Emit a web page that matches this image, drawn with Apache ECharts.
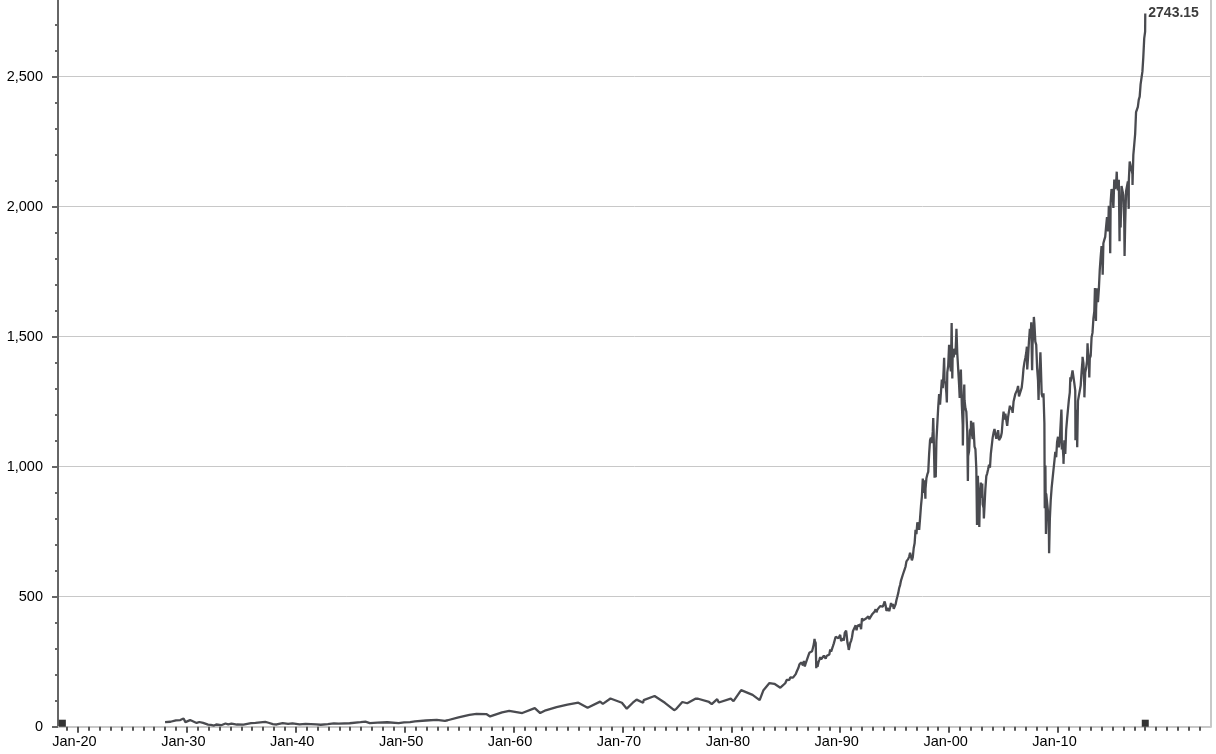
<!DOCTYPE html>
<html>
<head>
<meta charset="utf-8">
<script src="https://cdn.jsdelivr.net/npm/echarts@6/dist/echarts.min.js"></script>
<style>
html,body{margin:0;padding:0;background:#fff;}
#chart{width:1216px;height:754px;}
</style>
</head>
<body>
<div id="chart"></div>
<script>
// ---- Tick labels ----
const xLabelYears = [1920, 1930, 1940, 1950, 1960, 1970, 1980, 1990, 2000, 2010];
const xLabelText  = ['Jan-20','Jan-30','Jan-40','Jan-50','Jan-60','Jan-70','Jan-80','Jan-90','Jan-00','Jan-10'];
const yLabelValues = [0, 500, 1000, 1500, 2000, 2500];

// ---- Early history (decimal year, index level) ----
const earlyDates = [1928.0,1928.5,1929.0,1929.4,1929.7,1929.87,1930.0,1930.3,1930.9,1931.15,1931.5,1931.95,1932.2,1932.5,1932.7,1933.15,1933.55,1933.8,1934.1,1934.6,1935.2,1935.9,1936.3,1937.2,1937.5,1937.9,1938.25,1938.8,1939.3,1939.7,1940.35,1940.9,1941.9,1942.3,1942.95,1943.5,1943.95,1944.95,1945.95,1946.4,1946.8,1947.5,1948.4,1949.45,1949.95,1950.5,1950.95,1951.95,1952.95,1953.7,1953.95,1954.95,1955.95,1956.6,1957.5,1957.85,1958.95,1959.6,1960.8,1960.95,1961.95,1962.45,1962.95,1963.95,1964.95,1965.95,1966.1,1966.8,1966.95,1967.95,1968.2,1968.9,1969.95,1970.4,1970.95,1971.3,1971.9,1971.95,1972.95,1973.0,1973.9,1973.95,1974.75,1974.95,1975.5,1975.95,1976.7,1976.95,1977.95,1978.2,1978.7,1978.85,1978.95,1979.95,1980.2,1980.9,1980.95,1981.95,1982.6,1982.95,1983.5,1983.95,1984.5,1984.95];
const earlyValues = [17.6,19.0,24.4,25.5,31.3,17.7,21.5,25.5,14.5,18.1,14.5,8.1,7.3,4.4,8.5,5.7,12.2,8.8,11.8,8.4,8.1,13.4,15.0,18.7,15.2,10.2,8.5,13.8,10.6,13.0,9.3,10.9,8.7,7.5,9.8,12.5,11.5,13.3,17.4,19.3,14.1,15.5,17.1,13.6,16.8,17.5,20.4,23.8,26.6,22.7,24.8,36.0,45.5,49.7,48.5,39.4,55.2,60.7,52.5,58.1,71.6,52.3,63.1,75.0,84.8,92.4,94.0,73.2,80.3,96.5,87.7,108.4,92.1,69.3,92.2,104.0,92.0,102.1,118.1,120.2,92.0,97.6,63.5,68.6,95.0,90.2,107.5,107.5,95.1,87.0,106.0,93.0,96.1,107.9,98.0,140.5,135.8,122.6,102.4,140.6,168.0,164.9,150.0,167.2];

// ---- Monthly closes (Jan 1985 onward) ----
const closes1985to1994 = [
179.6,181.2,180.7,179.8,189.6,191.9,190.9,188.6,182.1,189.8,202.2,211.3,
211.8,226.9,238.9,235.5,247.4,250.8,236.1,252.9,231.3,244.0,249.2,242.2,
274.1,284.2,291.7,288.4,290.1,304.0,318.7,329.8,321.8,251.8,230.3,247.1,
257.1,267.8,258.9,261.3,262.2,273.5,272.0,261.5,271.9,279.0,273.7,277.7,
297.5,288.9,294.9,309.6,320.5,318.0,346.1,351.5,349.2,340.4,346.0,353.4,
329.1,331.9,339.9,330.8,361.2,358.0,356.2,322.6,306.1,304.0,322.2,330.2,
343.9,367.1,375.2,375.3,389.8,371.2,387.8,395.4,387.9,392.5,375.2,417.1,
408.8,412.7,403.7,415.0,415.4,408.1,424.2,414.0,417.8,418.7,431.4,435.7,
438.8,443.4,451.7,440.2,450.2,450.5,448.1,463.6,458.9,467.8,461.8,466.5,
481.6,467.1,445.8,451.0,456.5,444.3,458.3,475.5,462.7,472.4,453.7,459.3];
const closes1995to2004 = [
470.4,487.4,500.7,514.7,533.4,544.8,562.1,561.9,584.4,581.5,605.4,615.9,
636.0,640.4,645.5,654.2,669.1,670.6,639.9,652.0,687.3,705.3,757.0,740.7,
786.2,790.8,757.1,801.3,848.3,885.1,954.3,899.5,947.3,914.6,955.4,970.4,
980.3,1049.3,1101.8,1111.8,1090.8,1133.8,1120.7,957.3,1017.0,1098.7,1163.6,1229.2,
1279.6,1238.3,1286.4,1335.2,1301.8,1372.7,1328.7,1320.4,1282.7,1362.9,1388.9,1469.3,
1394.5,1366.4,1498.6,1452.4,1420.6,1454.6,1430.8,1517.7,1436.5,1429.4,1315.2,1320.3,
1366.0,1239.9,1160.3,1249.5,1255.8,1224.4,1211.2,1133.6,1040.9,1059.8,1139.5,1148.1,
1130.2,1106.7,1147.4,1076.9,1067.1,989.8,911.6,916.1,815.3,885.8,936.3,879.8,
855.7,841.2,848.2,916.9,963.6,974.5,990.3,1008.0,996.0,1050.7,1058.2,1111.9,
1131.1,1144.9,1126.2,1107.3,1120.7,1140.8,1101.7,1104.2,1114.6,1130.2,1173.8,1211.9];
const closes2005to2017 = [
1181.3,1203.6,1180.6,1156.9,1191.5,1191.3,1234.2,1220.3,1228.8,1207.0,1249.5,1248.3,
1280.1,1280.7,1294.9,1310.6,1270.1,1270.2,1276.7,1303.8,1335.9,1377.9,1400.6,1418.3,
1438.2,1406.8,1420.9,1482.4,1530.6,1503.4,1455.3,1474.0,1526.8,1549.4,1481.1,1468.4,
1378.6,1330.6,1322.7,1385.6,1400.4,1280.0,1267.4,1282.8,1166.4,968.8,896.2,903.3,
825.9,735.1,797.9,872.8,919.1,919.3,987.5,1020.6,1057.1,1036.2,1095.6,1115.1,
1073.9,1104.5,1169.4,1186.7,1089.4,1030.7,1101.6,1049.3,1141.2,1183.3,1180.6,1257.6,
1286.1,1327.2,1325.8,1363.6,1345.2,1320.6,1292.3,1218.9,1131.4,1253.3,1247.0,1257.6,
1312.4,1365.7,1408.5,1397.9,1310.3,1362.2,1379.3,1406.6,1440.7,1412.2,1416.2,1426.2,
1498.1,1514.7,1569.2,1597.6,1630.7,1606.3,1685.7,1633.0,1681.6,1756.5,1805.8,1848.4,
1782.6,1859.5,1872.3,1884.0,1923.6,1960.2,1930.7,2003.4,1972.3,2018.1,2067.6,2058.9,
1995.0,2104.5,2067.9,2085.5,2107.4,2063.1,2103.8,1972.2,1920.0,2079.4,2080.4,2043.9,
1940.2,1932.2,2059.7,2065.3,2097.0,2098.9,2173.6,2171.0,2168.3,2126.2,2198.8,2238.8,
2278.9,2363.6,2362.7,2384.2,2411.8,2423.4,2470.3,2471.7,2519.4,2575.3,2647.6,2673.6];

// ---- Intramonth extremes (decimal year, level) ----
const extremeDates = [1987.64,1987.80,1987.93,1990.54,1990.78,1997.82,1998.54,1998.77,1999.54,1999.79,2000.23,2000.29,2000.67,2000.97,2001.08,2001.26,2001.39,2001.72,2002.01,2002.21,2002.56,2002.64,2002.77,2002.91,2003.04,2003.19,2007.14,2007.17,2007.54,2007.62,2007.78,2008.21,2008.38,2008.78,2008.84,2008.89,2009.18,2010.31,2010.35,2010.50,2011.13,2011.33,2011.60,2011.76,2012.25,2012.42,2012.71,2012.87,2013.39,2013.48,2014.10,2014.60,2014.79,2015.39,2015.65,2016.11,2016.49,2016.84,2018.01];
const extremeValues = [337.9,224.8,223.9,369.8,295.5,876.9,1186.8,959.4,1418.8,1247.4,1552.9,1339.4,1530.1,1264.7,1373.7,1081.2,1315.9,944.8,1176.6,1170.3,775.7,965.0,768.6,938.9,935.1,800.7,1461.6,1374.0,1555.9,1370.6,1576.1,1257.0,1440.2,839.8,1005.0,741.0,666.8,1219.8,1065.8,1010.9,1344.1,1370.6,1101.5,1074.8,1422.4,1266.7,1474.5,1343.4,1687.2,1560.3,1737.9,1904.8,1820.7,2134.7,1867.0,1810.1,1991.7,2083.8,2743.15];

// ---- Range markers on the axis ----
const markerDates = [1918.57, 2018.01];

// ---- Build points ----
const points = [];
earlyDates.forEach((d, i) => points.push([d, earlyValues[i]]));
[[1985, closes1985to1994], [1995, closes1995to2004], [2005, closes2005to2017]].forEach(([start, arr]) => {
  arr.forEach((v, i) => points.push([start + (i + 1) / 12 - 0.003, v]));
});
extremeDates.forEach((d, i) => points.push([d, extremeValues[i]]));
points.sort((a, b) => a[0] - b[0]);

const yearTicks = [];
for (let y = 1919; y <= 2023; y++) yearTicks.push(y);

const X_MIN = 1918.17, X_MAX = 2024.0;
const FONT = 'Liberation Sans, Arial, sans-serif';

const chart = echarts.init(document.getElementById('chart'), null, {renderer: 'canvas'});
chart.setOption({
  animation: false,
  backgroundColor: '#ffffff',
  grid: {left: 58, right: 5.5, top: -1.3, bottom: 27.3, containLabel: false, outerBoundsMode: 'none'},
  xAxis: [
    {
      type: 'value', min: X_MIN, max: X_MAX, position: 'bottom',
      axisLine: {show: true, lineStyle: {color: '#c8c8c8', width: 2}},
      axisTick: {show: true, customValues: yearTicks, length: 4, lineStyle: {color: '#555', width: 2}},
      axisLabel: {show: false},
      splitLine: {show: false}
    },
    {
      type: 'value', min: X_MIN, max: X_MAX, position: 'bottom',
      axisLine: {show: false},
      axisTick: {show: true, customValues: xLabelYears, length: 6, lineStyle: {color: '#555', width: 2}},
      axisLabel: {
        show: true, customValues: xLabelYears, margin: 8,
        color: '#000', fontSize: 14.5, fontFamily: FONT,
        padding: [0, 7, 0, 0],
        formatter: v => xLabelText[xLabelYears.indexOf(Math.round(v))] || ''
      },
      splitLine: {show: false}
    }
  ],
  yAxis: [
    {
      type: 'value', min: 0, max: 2800, interval: 100, position: 'left',
      axisLine: {show: true, lineStyle: {color: '#666', width: 2}},
      axisTick: {show: true, length: 3, lineStyle: {color: '#666', width: 2}},
      axisLabel: {
        show: true, margin: 15, color: '#000', fontSize: 14.5, fontFamily: FONT,
        formatter: v => yLabelValues.indexOf(v) >= 0 ? String(v).replace(/\B(?=(\d{3})+(?!\d))/g, ',') : ''
      },
      splitLine: {show: false}
    },
    {
      type: 'value', min: 0, max: 2800, interval: 500, position: 'left',
      axisLine: {show: false},
      axisTick: {show: true, length: 6, lineStyle: {color: '#666', width: 2}},
      axisLabel: {show: false},
      splitLine: {show: true, lineStyle: {color: '#c8c8c8', width: 1}}
    },
    {
      type: 'value', min: 0, max: 2800, position: 'right',
      axisLine: {show: true, lineStyle: {color: '#c8c8c8', width: 2}},
      axisTick: {show: false}, axisLabel: {show: false}, splitLine: {show: false}
    }
  ],
  series: [
    {
      type: 'line', xAxisIndex: 0, yAxisIndex: 0,
      data: points, showSymbol: false, symbol: 'none',
      lineStyle: {color: '#4a4b50', width: 2.3},
      endLabel: {
        show: true, distance: 3, color: '#3d3d3d', fontSize: 14, fontWeight: 'bold', fontFamily: FONT,
        formatter: p => p.value[1].toFixed(2)
      },
      z: 3
    },
    {
      type: 'scatter', xAxisIndex: 0, yAxisIndex: 0,
      data: markerDates.map(d => [d, 0]),
      symbol: 'rect', symbolSize: 7, symbolOffset: [0, -3.5],
      itemStyle: {color: '#000'}, clip: false, z: 4
    }
  ]
});
</script>
</body>
</html>
